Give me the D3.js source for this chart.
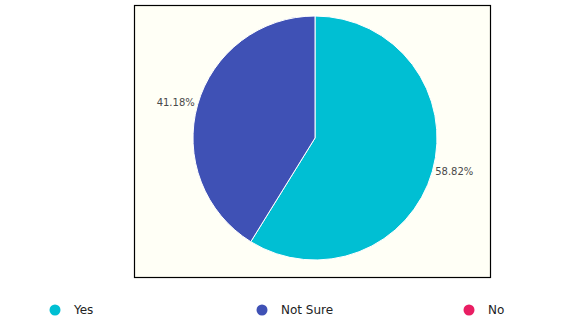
<!DOCTYPE html>
<html>
<head>
<meta charset="utf-8">
<script src="https://cdn.jsdelivr.net/npm/d3@7"></script>
<style>
  html, body { margin: 0; padding: 0; background: #fff; }
  svg { display: block; font-family: "DejaVu Sans", sans-serif; }
</style>
</head>
<body>
<svg id="chart" width="579" height="330"></svg>
<script>
const categories = ["Yes", "Not Sure", "No"];
const counts = [10, 7, 0];
const colors = ["#00bfd3", "#3f51b5", "#e91e63"];

const width = 579;
const height = 330;

const svg = d3.select("#chart");

// plot frame
const frame = { x: 134.5, y: 5.5, w: 356, h: 272 };
svg.append("rect")
    .attr("x", frame.x)
    .attr("y", frame.y)
    .attr("width", frame.w)
    .attr("height", frame.h)
    .attr("fill", "#fffff6")
    .attr("stroke", "#000")
    .attr("stroke-width", 1.2);

const cx = 315, cy = 138, radius = 122;

const total = d3.sum(counts);
const pie = d3.pie().sort(null).value(d => d.value);
const arcs = pie(categories.map((c, i) => ({ name: c, value: counts[i], color: colors[i] })));

const arc = d3.arc().innerRadius(0).outerRadius(radius);

const g = svg.append("g").attr("transform", `translate(${cx},${cy})`);

g.selectAll("path")
    .data(arcs.filter(d => d.value > 0))
    .join("path")
    .attr("d", arc)
    .attr("fill", d => d.data.color)
    .attr("stroke", "#fff")
    .attr("stroke-width", 1);

// percentage labels just outside the pie
const labelR = radius + 3;
g.selectAll("text")
    .data(arcs.filter(d => d.value > 0))
    .join("text")
    .attr("x", d => Math.sin((d.startAngle + d.endAngle) / 2) * labelR)
    .attr("y", d => -Math.cos((d.startAngle + d.endAngle) / 2) * labelR - 1)
    .attr("text-anchor", d => (d.startAngle + d.endAngle) / 2 < Math.PI ? "start" : "end")
    .attr("dominant-baseline", "central")
    .attr("font-size", 10)
    .attr("fill", "#4a4a4a")
    .text(d => (d.value / total * 100).toFixed(2) + "%");

// legend
const legendX = d3.scalePoint().domain(categories).range([55, 469]);
const legend = svg.append("g")
    .selectAll("g")
    .data(categories)
    .join("g")
    .attr("transform", d => `translate(${legendX(d)},310)`);

legend.append("circle")
    .attr("r", 5.5)
    .attr("fill", (d, i) => colors[i]);

legend.append("text")
    .attr("x", 19)
    .attr("dominant-baseline", "central")
    .attr("font-size", 12)
    .attr("fill", "#222")
    .text(d => d);
</script>
</body>
</html>
